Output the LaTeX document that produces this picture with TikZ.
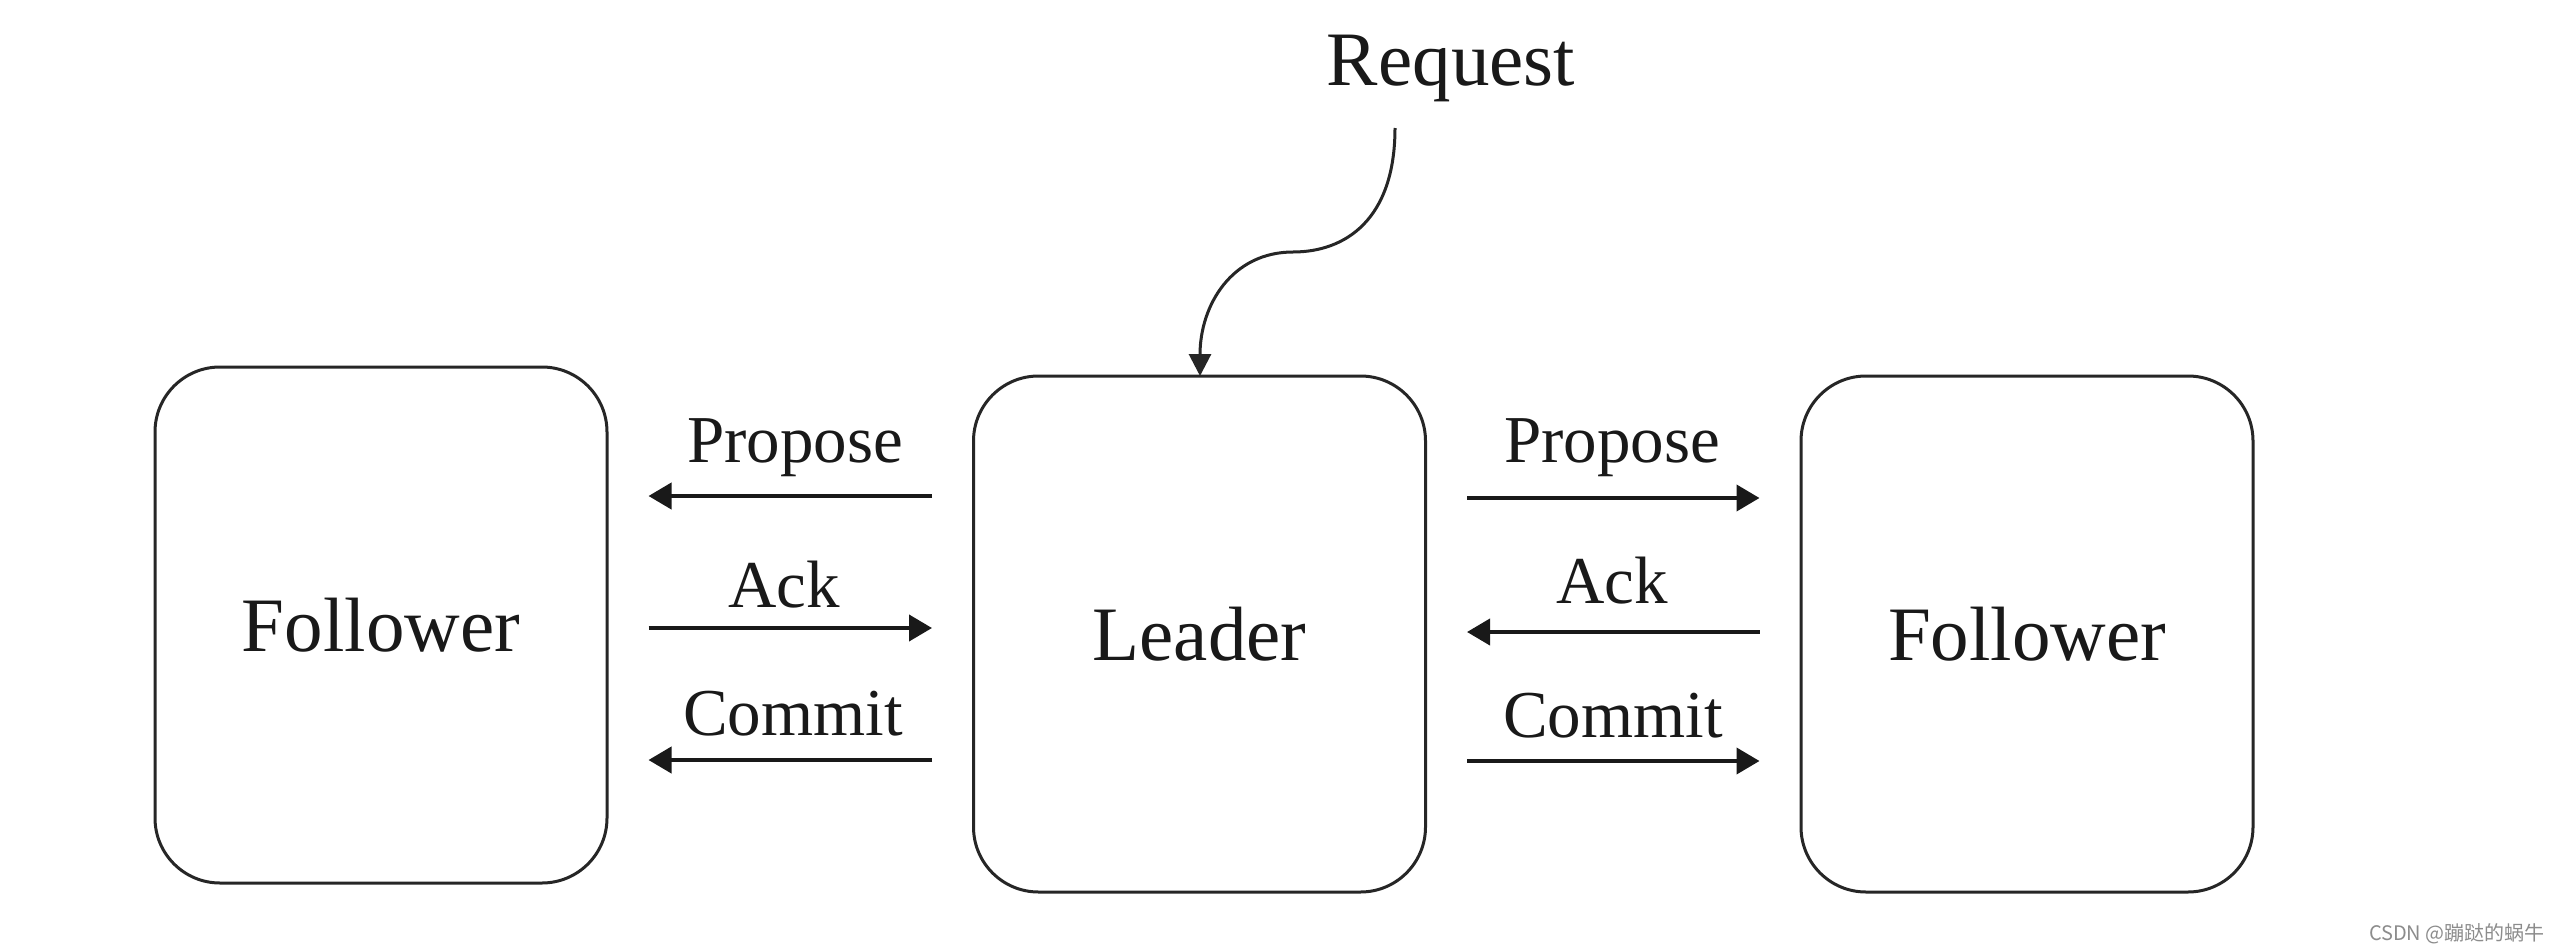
\documentclass[tikz,border=0pt]{standalone}
\usepackage{fontspec}
\setmainfont{Liberation Serif}
\newfontfamily\cjkfont{Noto Sans CJK SC}
\usetikzlibrary{arrows.meta}
\tikzset{
  x=1pt,y=-1pt,
  box/.style={draw=black!85, line width=3pt, rounded corners=65pt, minimum width=452pt, minimum height=516pt, inner sep=0pt,
    font=\fontsize{77}{80}\selectfont, text=black!90},
  lbl/.style={anchor=base, inner sep=0pt, font=\fontsize{67}{70}\selectfont, text=black!90},
  msg/.style={line width=4pt, draw=black!90, -{Triangle[length=23pt,width=26pt]}, shorten <=40pt, shorten >=40pt},
  req/.style={line width=3pt, draw=black!85, -{Triangle[length=22pt,width=22pt]}},
  wm/.style={anchor=base east, inner sep=0pt, font=\cjkfont\fontsize{20}{22}\selectfont, text=black!45}
}
\begin{document}
\begin{tikzpicture}
\useasboundingbox[fill=white] (0,0) rectangle (2560,950);
\node[box] (fl) at (381,625) {Follower};
\node[box] (ld) at (1199.5,634) {Leader};
\node[box] (fr) at (2027,634) {Follower};
\node[anchor=base, inner sep=0pt, font=\fontsize{77}{80}\selectfont, text=black!90] (rq) at (1451,85) {Request};
\coordinate (rs) at (1395,128);
\coordinate (rt) at (1200,376);
\draw[req] (rs) .. controls (1395,220) and (1345,252) .. (1293,252) .. controls (1232,252) and (1200,305) .. (rt);
% left side
\draw[msg] (ld.west |- 0,496) -- (fl.east |- 0,496);
\draw[msg] (fl.east |- 0,628) -- (ld.west |- 0,628);
\draw[msg] (ld.west |- 0,760) -- (fl.east |- 0,760);
\node[lbl] (lp) at (795,462) {Propose};
\node[lbl] (la) at (784,607) {Ack};
\node[lbl] (lc) at (793,735) {Commit};
% right side
\draw[msg] (ld.east |- 0,498) -- (fr.west |- 0,498);
\draw[msg] (fr.west |- 0,632) -- (ld.east |- 0,632);
\draw[msg] (ld.east |- 0,761) -- (fr.west |- 0,761);
\node[lbl] (rp) at (1612,462) {Propose};
\node[lbl] (ra) at (1612,603) {Ack};
\node[lbl] (rc) at (1613,737) {Commit};
\node[wm] (w) at (2545,940) {CSDN @蹦跶的蜗牛};
\end{tikzpicture}
\end{document}
